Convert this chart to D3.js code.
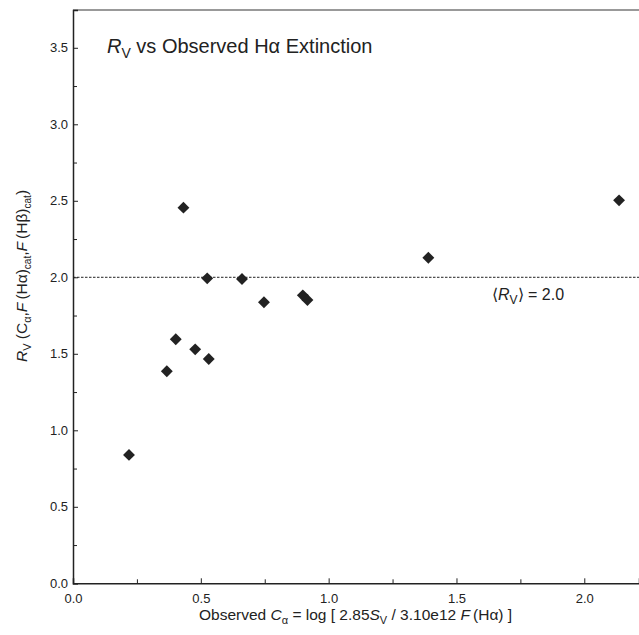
<html lang="en">
<head>
<meta charset="UTF-8">
<script src="https://d3js.org/d3.v7.min.js"></script>
<style>
    body { margin: 0; background: #fff; }
    svg text { font-family: "Liberation Sans", Arial, sans-serif; fill: #222; }
</style>
</head>
<body>
<div id="chart"></div>
<script>
    // observed C_alpha vs R_V
    const cAlpha = [0.219, 0.367, 0.402, 0.432, 0.478, 0.525, 0.531, 0.661, 0.747, 0.899, 0.917, 1.390, 2.136];
    const rV     = [0.839, 1.386, 1.595, 2.455, 1.529, 1.993, 1.466, 1.989, 1.837, 1.882, 1.852, 2.128, 2.503];
    const meanRV = 2.0;
    const xMajor = [0, 0.5, 1.0, 1.5, 2.0];
    const xMinor = [0.25, 0.75, 1.25, 1.75];
    const yMajor = [0, 0.5, 1.0, 1.5, 2.0, 2.5, 3.0, 3.5];
    const yMinor = [0.25, 0.75, 1.25, 1.75, 2.25, 2.75, 3.25];

    const W = 639, H = 635;
    const pLeft = 73, pRight = 639, pTop = 10, pBottom = 583.3;

    const svg = d3.select("#chart").append("svg")
        .attr("width", W).attr("height", H);

    const x = d3.scaleLinear().domain([0, 2.214]).range([pLeft, pRight]);
    const y = d3.scaleLinear().domain([0, 3.747]).range([pBottom, pTop]);

    // top frame line (grey)
    svg.append("line")
        .attr("x1", pLeft).attr("x2", pRight)
        .attr("y1", pTop).attr("y2", pTop)
        .attr("stroke", "#999").attr("stroke-width", 2);

    // x axis
    svg.append("g").attr("transform", `translate(0,${pBottom})`)
        .call(d3.axisBottom(x).tickValues(xMajor).tickSize(-5).tickPadding(10)
            .tickFormat(d3.format(".1f")));
    svg.append("g").attr("transform", `translate(0,${pBottom})`)
        .call(d3.axisBottom(x).tickValues(xMinor).tickSize(-4).tickFormat(""))
        .select(".domain").remove();

    // y axis
    svg.append("g").attr("transform", `translate(${pLeft},0)`)
        .call(d3.axisLeft(y).tickValues(yMajor).tickSize(-5).tickPadding(5)
            .tickFormat(d3.format(".1f")));
    svg.append("g").attr("transform", `translate(${pLeft},0)`)
        .call(d3.axisLeft(y).tickValues(yMinor).tickSize(-4).tickFormat(""))
        .select(".domain").remove();

    svg.selectAll(".domain").attr("stroke", "#222").attr("stroke-width", 1.5);
    svg.selectAll(".tick line").attr("stroke", "#222");
    svg.selectAll(".tick text").style("font-size", "13px").attr("fill", "#222")
        .style("font-family", "'Liberation Sans', Arial, sans-serif");

    // mean line
    svg.append("line")
        .attr("x1", x(0)).attr("x2", pRight)
        .attr("y1", y(meanRV)).attr("y2", y(meanRV))
        .attr("stroke", "#222").attr("stroke-width", 1)
        .attr("stroke-dasharray", "2.5,1.5");

    const mean = svg.append("text").attr("x", 492).attr("y", y(meanRV) + 23)
        .style("font-size", "16px");
    mean.append("tspan").text("\u27E8");
    mean.append("tspan").attr("font-style", "italic").text("R");
    mean.append("tspan").attr("dy", 4).style("font-size", "12px").text("V");
    mean.append("tspan").attr("dy", -4).text("\u27E9 = " + meanRV.toFixed(1));

    // points
    const diamond = d3.symbol().type(d3.symbolDiamond2).size(90);
    svg.selectAll("path.pt")
        .data(cAlpha.map((c, i) => [c, rV[i]]))
        .enter().append("path")
        .attr("class", "pt")
        .attr("d", diamond)
        .attr("transform", d => `translate(${x(d[0])},${y(d[1])})`)
        .attr("fill", "#222");

    // title
    const title = svg.append("text").attr("x", 107).attr("y", 53).style("font-size", "20px");
    title.append("tspan").attr("font-style", "italic").text("R");
    title.append("tspan").attr("dy", 5).style("font-size", "14px").text("V");
    title.append("tspan").attr("dy", -5).text(" vs Observed H\u03B1 Extinction");

    // x label
    const xl = svg.append("text").attr("x", 199).attr("y", 620).style("font-size", "15.5px");
    xl.append("tspan").text("Observed ");
    xl.append("tspan").attr("font-style", "italic").text("C");
    xl.append("tspan").attr("dy", 4).style("font-size", "11px").text("\u03B1");
    xl.append("tspan").attr("dy", -4).text(" = log [ 2.85");
    xl.append("tspan").attr("font-style", "italic").text("S");
    xl.append("tspan").attr("dy", 4).style("font-size", "11px").text("V");
    xl.append("tspan").attr("dy", -4).text(" / 3.10e12 ");
    xl.append("tspan").attr("font-style", "italic").text("F");
    xl.append("tspan").text("\u2009(H\u03B1) ]");

    // y label
    const yl = svg.append("text")
        .attr("transform", "translate(27,276) rotate(-90)")
        .attr("text-anchor", "middle").style("font-size", "15.5px");
    yl.append("tspan").attr("font-style", "italic").text("R");
    yl.append("tspan").attr("dy", 4).style("font-size", "11px").text("V");
    yl.append("tspan").attr("dy", -4).text(" (C");
    yl.append("tspan").attr("dy", 4).style("font-size", "11px").text("\u03B1");
    yl.append("tspan").attr("dy", -4).text(",");
    yl.append("tspan").attr("font-style", "italic").text("F");
    yl.append("tspan").text("\u2009(H\u03B1)");
    yl.append("tspan").attr("dy", 4).style("font-size", "10px").text("cat");
    yl.append("tspan").attr("dy", -4).text(",");
    yl.append("tspan").attr("font-style", "italic").text("F");
    yl.append("tspan").text("\u2009(H\u03B2)");
    yl.append("tspan").attr("dy", 4).style("font-size", "10px").text("cat");
    yl.append("tspan").attr("dy", -4).text(")");
</script>
</body>
</html>
